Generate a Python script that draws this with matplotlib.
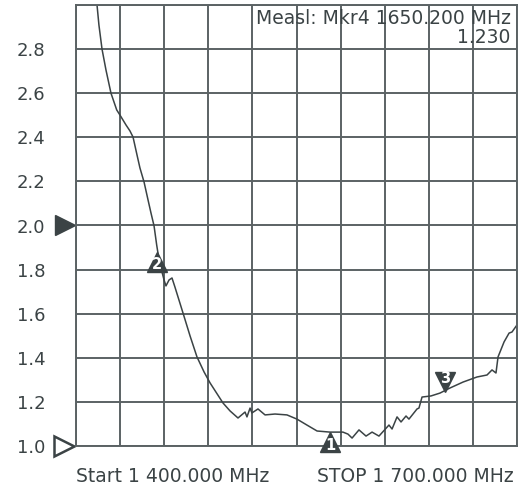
import numpy as np
import matplotlib.pyplot as plt
from matplotlib import transforms

# частоты (МГц) и КСВ
freq = [1414.3, 1415.6, 1417.7, 1420.4, 1423.8, 1427.7, 1429.9, 1434.0, 1436.7,
        1438.8, 1441.5, 1443.5, 1446.3, 1449.0, 1451.0, 1453.1, 1454.9, 1456.5,
        1458.5, 1459.9, 1461.2, 1463.3, 1465.3, 1467.3, 1472.8, 1477.6, 1482.3,
        1487.1, 1491.2, 1500.0, 1504.8, 1510.2, 1515.0, 1516.3, 1518.4, 1519.7,
        1523.8, 1528.6, 1535.4, 1543.5, 1550.3, 1557.1, 1564.0, 1572.8, 1581.6,
        1585.0, 1587.8, 1592.5, 1597.3, 1601.4, 1606.1, 1612.9, 1615.0, 1618.4,
        1621.1, 1624.5, 1626.5, 1632.0, 1633.3, 1635.4, 1641.5, 1647.6, 1654.4,
        1663.3, 1672.8, 1679.6, 1683.0, 1685.7, 1687.1, 1691.2, 1694.6, 1696.6,
        1700.0]
vswr = [3.000, 2.909, 2.800, 2.705, 2.600, 2.524, 2.501, 2.456, 2.429,
        2.401, 2.320, 2.261, 2.197, 2.116, 2.057, 1.998, 1.911, 1.844,
        1.789, 1.753, 1.726, 1.753, 1.762, 1.721, 1.603, 1.499, 1.404,
        1.336, 1.286, 1.195, 1.159, 1.127, 1.154, 1.132, 1.172, 1.150,
        1.168, 1.141, 1.145, 1.141, 1.122, 1.095, 1.068, 1.063, 1.063,
        1.054, 1.036, 1.073, 1.045, 1.063, 1.045, 1.095, 1.077, 1.132,
        1.109, 1.136, 1.122, 1.168, 1.172, 1.222, 1.227, 1.240, 1.263,
        1.290, 1.313, 1.322, 1.345, 1.331, 1.404, 1.472, 1.512, 1.517,
        1.549]

# маркеры: номер, частота, значение, направление
mkr_names = ["1", "2", "3"]
mkr_freq = [1572.8, 1455.0, 1651.0]
mkr_vswr = [1.063, 1.880, 1.245]
mkr_up = [True, True, False]

y_ticks = [1.0, 1.2, 1.4, 1.6, 1.8, 2.0, 2.2, 2.4, 2.6, 2.8, 3.0]
y_labels = ["1.0", "1.2", "1.4", "1.6", "1.8", "2.0", "2.2", "2.4", "2.6", "2.8", ""]
x_ticks = np.arange(1400, 1701, 30)

dark = "#3b4345"
grid_c = "#5b6264"

fig = plt.figure(figsize=(5.29, 4.90), dpi=100)
ax = fig.add_axes([76 / 529, 44 / 490, 441 / 529, 441 / 490])
ax.set_xlim(1400, 1700)
ax.set_ylim(1.0, 3.0)
ax.set_xticks(x_ticks)
ax.set_xticklabels([])
ax.set_yticks(y_ticks)
ax.set_yticklabels(y_labels)
ax.tick_params(length=0, pad=22, labelsize=13, labelcolor=dark)
ax.grid(True, color=grid_c, lw=1.4)
for s in ax.spines.values():
    s.set_color(grid_c)
    s.set_linewidth(1.4)

ax.plot(freq, vswr, color=dark, lw=1.1)

# маркеры-треугольники с номером
for name, f, v, up in zip(mkr_names, mkr_freq, mkr_vswr, mkr_up):
    dy = -0.1 if up else 0.1
    tr = ax.transData + transforms.ScaledTranslation(0, dy, fig.dpi_scale_trans)
    ax.plot([f], [v], marker="^" if up else "v", ms=15, color=dark,
            transform=tr, clip_on=False, zorder=5)
    ty = -0.03 if up else 0.03
    tt = tr + transforms.ScaledTranslation(0, ty, fig.dpi_scale_trans)
    ax.text(f, v, name, transform=tt, color="white", fontsize=10.5,
            fontweight="bold", ha="center", va="center", zorder=6)

# опорные уровни слева от оси
yax = transforms.blended_transform_factory(ax.transAxes, ax.transData)
ax.plot([-0.026], [2.0], marker=">", ms=15, color=dark, transform=yax,
        clip_on=False)
ax.plot([-0.027], [1.0], marker=">", ms=14, mfc="white", mec=dark, mew=1.8,
        transform=yax, clip_on=False)

ax.text(0.985, 0.99, "Measl: Mkr4 1650.200 MHz\n1.230", transform=ax.transAxes,
        ha="right", va="top", fontsize=13.5, color=dark, linespacing=1.0,
        multialignment="right")

fig.text(76 / 529, 14 / 490, "Start 1 400.000 MHz", ha="left", va="center",
         fontsize=13.5, color=dark)
fig.text(514 / 529, 14 / 490, "STOP 1 700.000 MHz", ha="right", va="center",
         fontsize=13.5, color=dark)

fig.savefig("out.png", dpi=100)
